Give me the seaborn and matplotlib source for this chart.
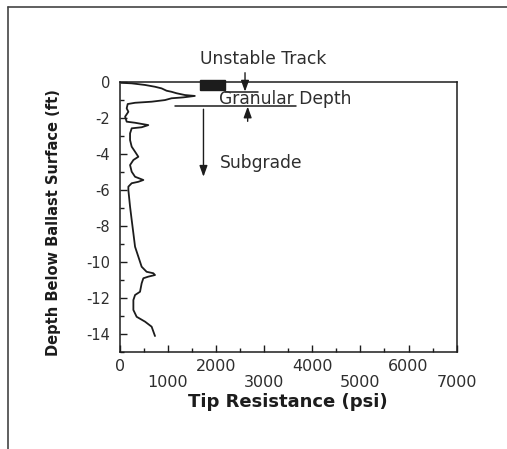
import matplotlib
matplotlib.use("Agg")
import matplotlib.pyplot as plt
from matplotlib.lines import Line2D
from matplotlib.patches import Rectangle
from matplotlib.ticker import MultipleLocator
import numpy as np
import pandas as pd
import seaborn as sns

# ---- data ----
tip_psi = [29, 248, 526, 733, 870, 973, 1077, 1180, 1354, 1561, 1319, 1077, 940, 663,
           319, 166, 145, 180, 112, 145, 319, 594, 456, 249, 215, 215, 249, 319, 387,
           284, 215, 249, 319, 491, 387, 249, 180, 180, 215, 249, 284, 319, 387, 456,
           559, 698, 733, 594, 491, 456, 422, 319, 284, 284, 352, 526, 663, 733]
depth_ft = [-0.06, -0.09, -0.18, -0.28, -0.37, -0.50, -0.56, -0.64, -0.74, -0.79, -0.87,
            -0.92, -1.02, -1.11, -1.17, -1.24, -1.48, -1.67, -1.94, -2.22, -2.28, -2.41,
            -2.53, -2.59, -2.87, -3.24, -3.61, -3.89, -4.17, -4.35, -4.63, -5.0, -5.28,
            -5.46, -5.56, -5.64, -5.83, -6.02, -6.94, -7.68, -8.42, -9.17, -9.72, -10.28,
            -10.56, -10.64, -10.74, -10.83, -10.92, -11.2, -11.67, -11.85, -12.13, -12.68,
            -13.06, -13.33, -13.61, -14.13]

x_ticks = [0, 1000, 2000, 3000, 4000, 5000, 6000, 7000]
x_tick_labels = ["0", "\n1000", "2000", "\n3000", "4000", "\n5000", "6000", "\n7000"]
y_ticks = [0, -2, -4, -6, -8, -10, -12, -14]

unstable_box_x = [1676, 2193]
unstable_box_y = [-0.46, 0.09]
unstable_line_x = [2190, 2875]
unstable_line_y = -0.55
granular_line_x = [1155, 3660]
granular_line_y = -1.33

df = pd.DataFrame({"tip": tip_psi, "depth": depth_ft})

# ---- style ----
sns.set_theme(style="white")
plt.rcParams["font.family"] = ["DejaVu Sans"]
plt.rcParams["axes.unicode_minus"] = False
ink = "#1c1c1c"
soft = "#2e2e2e"

fig = plt.figure(figsize=(5.07, 4.49), dpi=100)
ax = fig.add_axes([0.2361, 0.2167, 0.6647, 0.6013])

sns.lineplot(data=df, x="tip", y="depth", sort=False, estimator=None,
             color=ink, lw=1.3, ax=ax)

ax.set_xlim(0, 7000)
ax.set_ylim(-15, 0)

ax.set_xticks(x_ticks)
ax.set_xticklabels(x_tick_labels, fontsize=11.5, color=soft, linespacing=1.15)
ax.set_yticks(y_ticks)
ax.set_yticklabels([str(v) for v in y_ticks], fontsize=10.5, color=soft)
ax.xaxis.set_minor_locator(MultipleLocator(500))
ax.yaxis.set_minor_locator(MultipleLocator(1))
ax.tick_params(which="both", direction="in", bottom=True, left=True, top=False,
               right=False, color=ink, width=1)
ax.tick_params(which="major", length=5)
ax.tick_params(which="minor", length=3)
ax.tick_params(axis="x", which="major", pad=5)
ax.tick_params(axis="y", which="major", pad=7)

for s in ax.spines.values():
    s.set_color(ink)
    s.set_linewidth(1.1)
    s.set_visible(True)

ax.set_xlabel("Tip Resistance (psi)", fontsize=13, fontweight="bold", color=ink)
ax.xaxis.set_label_coords(0.498, -0.186)
ax.xaxis.label.set_va("center")
ax.set_ylabel("Depth Below Ballast Surface (ft)", fontsize=10.5, fontweight="bold",
              color=ink)
ax.yaxis.set_label_coords(-0.195, 0.477)
ax.yaxis.label.set_va("center")

# ---- annotations ----
ax.add_patch(Rectangle((unstable_box_x[0], unstable_box_y[0]),
                       unstable_box_x[1] - unstable_box_x[0],
                       unstable_box_y[1] - unstable_box_y[0],
                       facecolor=ink, edgecolor=ink, clip_on=False, zorder=3))
ax.plot(unstable_line_x, [unstable_line_y] * 2, color=ink, lw=1.1)
ax.plot(granular_line_x, [granular_line_y] * 2, color=ink, lw=1.1)

arrow_kw = dict(arrowstyle="-|>,head_length=0.55,head_width=0.2", color=ink, lw=1.0,
                shrinkA=0, shrinkB=0)
ax.annotate("", xy=(2603, -0.55), xytext=(2603, 0.5), arrowprops=arrow_kw,
            annotation_clip=False)
ax.annotate("", xy=(2658, -1.38), xytext=(2658, -2.2), arrowprops=arrow_kw)
ax.annotate("", xy=(1740, -5.28), xytext=(1740, -1.53), arrowprops=arrow_kw)

ax.text(2976, 1.26, "Unstable Track", fontsize=12.3, color=soft, ha="center",
        va="center", clip_on=False)
ax.text(2068, -1.25, "Granular Depth", fontsize=12.3, color=soft, ha="left",
        va="baseline")
ax.text(2085, -4.53, "Subgrade", fontsize=12.3, color=soft, ha="left", va="center")

# ---- page frame (scanned border) ----
fig.add_artist(Line2D([7.5 / 507, 1.0], [1 - 6.5 / 449, 1 - 6.5 / 449],
                      transform=fig.transFigure, color="#444444", lw=1.2))
fig.add_artist(Line2D([7.5 / 507, 7.5 / 507], [0.0, 1 - 6.5 / 449],
                      transform=fig.transFigure, color="#444444", lw=1.2))

fig.savefig("out.png", dpi=100, facecolor="white")
